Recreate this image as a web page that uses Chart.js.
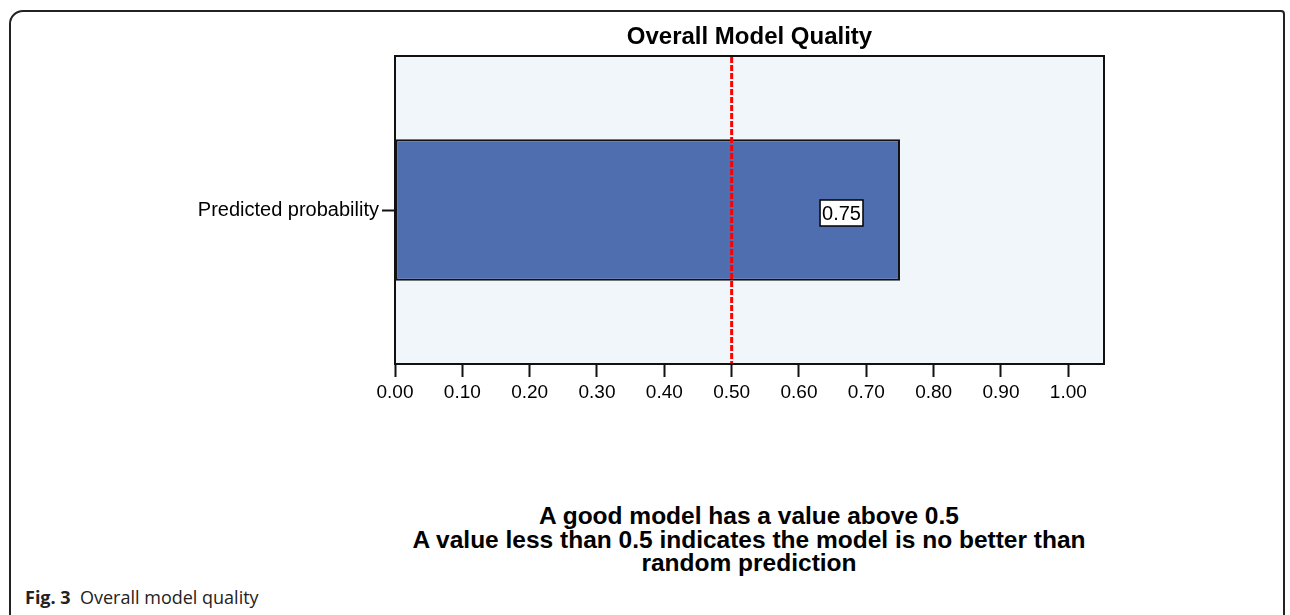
<!DOCTYPE html>
<html>
<head>
<meta charset="utf-8">
<script src="https://cdn.jsdelivr.net/npm/chart.js@4.4.1/dist/chart.umd.min.js"></script>
<style>
    html, body { margin: 0; padding: 0; background: #fff; }
    body { width: 1290px; height: 615px; position: relative; overflow: hidden; }
    .frame {
        position: absolute; left: 9px; top: 10px; width: 1276px; height: 640px;
        border: 2px solid #222; border-top-left-radius: 14px; border-top-right-radius: 4px;
        box-sizing: border-box;
    }
    .chart-box { position: absolute; left: 0; top: 0; width: 1290px; height: 420px; }
    .note {
        position: absolute; left: 349px; width: 800px; top: 504px;
        text-align: center; font: bold 24.5px "Liberation Sans", Arial, sans-serif;
        line-height: 23.5px; color: #000;
    }
    .caption {
        position: absolute; left: 25px; top: 585px;
        font: 18px "Open Sans", sans-serif; color: #222;
    }
    .caption b { font-weight: 700; }
</style>
</head>
<body>
<div class="frame"></div>
<div class="chart-box"><canvas id="qualityChart"></canvas></div>
<div class="note">A good model has a value above 0.5<br>A value less than 0.5 indicates the model is no better than<br>random prediction</div>
<div class="caption"><b>Fig. 3</b>&nbsp; Overall model quality</div>

<script>
// Chart data
const chartTitle = 'Overall Model Quality';
const categories = ['Predicted probability'];
const qualityValues = [0.75];
const valueLabels = ['0.75'];
const xTickValues = [0, 0.1, 0.2, 0.3, 0.4, 0.5, 0.6, 0.7, 0.8, 0.9, 1.0];
const referenceValue = 0.5;
const xMax = 1.053;

// Plot background + frame, title over the plot, reference line, value label
const plotExtras = {
    id: 'plotExtras',
    beforeDatasetsDraw(chart) {
        const a = chart.chartArea;
        const ctx = chart.ctx;
        ctx.save();
        ctx.fillStyle = '#F1F6FA';
        ctx.fillRect(a.left, a.top, a.right - a.left, a.bottom - a.top);
        ctx.restore();
    },
    afterDatasetsDraw(chart) {
        const a = chart.chartArea;
        const ctx = chart.ctx;
        const x = chart.scales.x.getPixelForValue(referenceValue);

        ctx.save();
        // frame around plot
        ctx.strokeStyle = '#111';
        ctx.lineWidth = 2;
        ctx.strokeRect(a.left, a.top, a.right - a.left, a.bottom - a.top);

        // title centred on the plot
        ctx.fillStyle = '#000';
        ctx.font = 'bold 24px "Liberation Sans", Arial, sans-serif';
        ctx.textAlign = 'center';
        ctx.textBaseline = 'middle';
        ctx.fillText(chartTitle, (a.left + a.right) / 2, 37);

        // dashed reference line
        ctx.strokeStyle = '#FF0000';
        ctx.lineWidth = 3;
        ctx.setLineDash([6, 2]);
        ctx.beginPath();
        ctx.moveTo(x, a.top + 1);
        ctx.lineTo(x, a.bottom - 1);
        ctx.stroke();
        ctx.setLineDash([]);

        // value label box
        const bar = chart.getDatasetMeta(0).data[0];
        ctx.font = '20px "Liberation Sans", Arial, sans-serif';
        const text = valueLabels[0];
        const w = ctx.measureText(text).width + 4;
        const h = 26;
        const right = bar.x - 37;
        const cy = bar.y + 3;
        ctx.fillStyle = '#fff';
        ctx.fillRect(right - w, cy - h / 2, w, h);
        ctx.strokeStyle = '#000';
        ctx.lineWidth = 1.5;
        ctx.strokeRect(right - w, cy - h / 2, w, h);
        ctx.fillStyle = '#000';
        ctx.textAlign = 'center';
        ctx.textBaseline = 'middle';
        ctx.fillText(text, right - w / 2, cy + 1);
        ctx.restore();
    }
};

const ctx = document.getElementById('qualityChart');
new Chart(ctx, {
    type: 'bar',
    data: {
        labels: categories,
        datasets: [{
            data: qualityValues,
            backgroundColor: '#4F6EB0',
            borderColor: '#111',
            borderWidth: 2,
            borderSkipped: false,
            barPercentage: 0.46,
            categoryPercentage: 1
        }]
    },
    options: {
        indexAxis: 'y',
        responsive: true,
        maintainAspectRatio: false,
        animation: false,
        layout: {
            padding: { left: 145, right: 186, top: 56, bottom: 16 }
        },
        plugins: {
            legend: { display: false },
            tooltip: { enabled: false },
            title: { display: false }
        },
        scales: {
            x: {
                min: 0,
                max: xMax,
                afterBuildTicks: function(scale) {
                    scale.ticks = xTickValues.map(v => ({ value: v }));
                },
                afterFit: function(scale) {
                    scale.height = 40;
                },
                grid: {
                    drawOnChartArea: false,
                    drawTicks: true,
                    tickLength: 13,
                    tickWidth: 2,
                    color: '#111'
                },
                border: { display: true, color: '#111', width: 2 },
                ticks: {
                    color: '#000',
                    padding: 4,
                    maxRotation: 0,
                    font: { family: '"Liberation Sans", Arial, sans-serif', size: 19 },
                    callback: function(value) {
                        return Number(value).toFixed(2);
                    }
                }
            },
            y: {
                afterFit: function(scale) {
                    scale.width = 250;
                },
                grid: {
                    offset: false,
                    drawOnChartArea: false,
                    drawTicks: true,
                    tickLength: 13,
                    tickWidth: 2,
                    color: '#111'
                },
                border: { display: true, color: '#111', width: 2 },
                ticks: {
                    color: '#000',
                    padding: 3,
                    font: { family: '"Liberation Sans", Arial, sans-serif', size: 20 }
                }
            }
        }
    },
    plugins: [plotExtras]
});
</script>
</body>
</html>
